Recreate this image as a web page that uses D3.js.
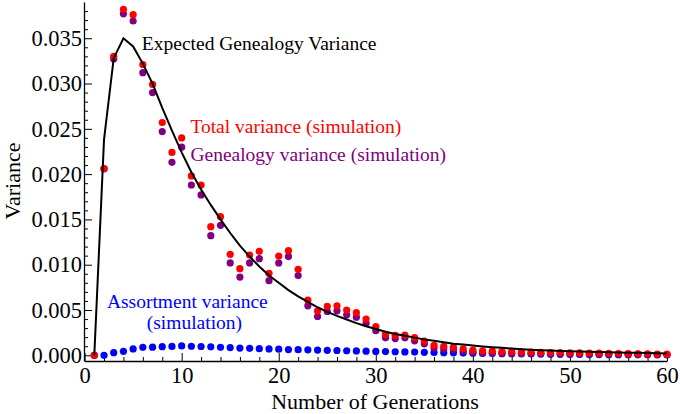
<!DOCTYPE html>
<html>
<head>
<meta charset="utf-8">
<script src="https://cdn.jsdelivr.net/npm/d3@7"></script>
<style>
  html, body { margin: 0; padding: 0; background: #fff; }
  svg { display: block; }
  text { font-family: "Liberation Serif", "Times New Roman", serif; }
</style>
</head>
<body>
<svg id="chart" width="680" height="414"></svg>
<script>
// ---- data (values in units of variance) ----
const generations = [1,2,3,4,5,6,7,8,9,10,11,12,13,14,15,16,17,18,19,20,
  21,22,23,24,25,26,27,28,29,30,31,32,33,34,35,36,37,38,39,40,
  41,42,43,44,45,46,47,48,49,50,51,52,53,54,55,56,57,58,59,60];

const expectedGenealogy = [0,0.0238,0.0328,0.0350,0.0341,0.0322,0.0300,0.0273,0.0248,0.0224,
  0.0202,0.0183,0.0166,0.0150,0.0135,0.0121,0.0109,0.0098,0.0088,0.0080,
  0.0072,0.0065,0.0059,0.0053,0.0048,0.00435,0.00395,0.00355,0.0032,0.0029,
  0.0026,0.00235,0.00215,0.00195,0.00175,0.0016,0.00145,0.00128,0.00118,0.00108,
  0.00098,0.0009,0.00082,0.00075,0.00068,0.00062,0.00057,0.00052,0.00048,0.00045,
  0.00042,0.00039,0.00036,0.00033,0.00031,0.00029,0.00027,0.00025,0.00023,0.00021];

const totalVariance = [0,0.0206,0.0330,0.0382,0.0376,0.0321,0.0299,0.0257,0.0224,0.0240,
  0.0198,0.0188,0.0142,0.0153,0.01115,0.00956,0.01107,0.01148,0.00905,0.01096,
  0.01155,0.0095,0.0061,0.00489,0.0054,0.00546,0.0050,0.0047,0.0040,0.00316,
  0.00232,0.0022,0.00224,0.00195,0.00158,0.0011,0.00099,0.0009,0.00072,0.00056,
  0.0005,0.00047,0.00042,0.0004,0.00037,0.00035,0.00033,0.00031,0.0003,0.00028,
  0.00026,0.00025,0.00023,0.00022,0.0002,0.00018,0.00017,0.00015,0.00013,0.00012];

const genealogyVariance = [0,0.0206,0.0327,0.0377,0.0369,0.0312,0.0290,0.0247,0.0213,0.02297,
  0.0188,0.0177,0.0132,0.01435,0.0102,0.00864,0.0102,0.01067,0.00824,0.0102,
  0.0109,0.0088,0.00546,0.00428,0.00484,0.00491,0.00447,0.00421,0.00353,0.00272,
  0.00193,0.00185,0.00193,0.0016,0.00127,0.0008,0.0007,0.00063,0.00047,0.00034,
  0.0003,0.00027,0.00024,0.00023,0.00022,0.00021,0.0002,0.00019,0.00019,0.00018,
  0.00017,0.00017,0.00015,0.00015,0.00014,0.00012,0.00012,0.0001,0.00009,0.00008];

const assortmentVariance = [0,0,0.00029,0.00044,0.0007,0.00088,0.0009,0.00095,0.00098,0.00103,
  0.001,0.00097,0.00093,0.00088,0.00085,0.0008,0.00077,0.00073,0.0007,0.00067,
  0.00063,0.00062,0.0006,0.00058,0.00055,0.00053,0.0005,0.00048,0.00045,0.00043,
  0.00041,0.00039,0.00037,0.00035,0.00033,0.00031,0.00029,0.00027,0.00025,0.00023,
  0.00021,0.0002,0.00018,0.00017,0.00015,0.00014,0.00013,0.00012,0.00011,0.0001,
  0.00009,0.00008,0.00008,0.00007,0.00006,0.00006,0.00005,0.00005,0.00004,0.00004];

const xTicks = [0,10,20,30,40,50,60];
const yTicks = [0,0.005,0.010,0.015,0.020,0.025,0.030,0.035];

const xTitle = "Number of Generations";
const yTitle = "Variance";
const labels = [
  {text: "Expected Genealogy Variance", color: "#000000", x: 5.9, y: 0.0337, anchor: "start"},
  {text: "Total variance (simulation)", color: "#ff0000", x: 10.9, y: 0.0245, anchor: "start"},
  {text: "Genealogy variance (simulation)", color: "#800080", x: 10.9, y: 0.0214, anchor: "start"},
  {text: "Assortment variance", color: "#0000ff", x: 2.3, y: 0.0052, anchor: "start"},
  {text: "(simulation)", color: "#0000ff", x: 6.4, y: 0.0029, anchor: "start"}
];

// ---- layout ----
const svg = d3.select("#chart");
const x = d3.scaleLinear().domain([0, 60]).range([84.6, 667]);
const y = d3.scaleLinear().domain([-0.00063, 0.039]).range([361, 2]);

const minorX = d3.range(0, 61, 2).filter(v => v % 10 !== 0);
const minorY = d3.range(0, 39).map(i => i / 1000).filter(v => Math.round(v * 1000) % 5 !== 0);

// x axis
const gx = svg.append("g").attr("transform", "translate(0,361)");
gx.call(d3.axisBottom(x).tickValues(xTicks).tickSizeInner(-8).tickSizeOuter(0)
  .tickPadding(6).tickFormat(d3.format("d")));
gx.append("g").call(d3.axisBottom(x).tickValues(minorX).tickSize(-4).tickFormat(""))
  .select(".domain").remove();

// y axis
const gy = svg.append("g").attr("transform", "translate(84,0)");
gy.call(d3.axisLeft(y).tickValues(yTicks).tickSizeInner(-8).tickSizeOuter(0)
  .tickPadding(2).tickFormat(d3.format(".3f")));
gy.append("g").call(d3.axisLeft(y).tickValues(minorY).tickSize(-4).tickFormat(""))
  .select(".domain").remove();

svg.selectAll(".domain").attr("stroke", "#000").attr("stroke-width", 1.3);
svg.selectAll(".tick line").attr("stroke", "#000").attr("stroke-width", 1);
svg.selectAll(".tick text").attr("font-size", 22.5).attr("fill", "#000")
  .attr("font-family", "'Liberation Serif', serif");
gx.selectAll(".tick text").attr("dy", "0.71em");

// titles
svg.append("text").attr("x", 375).attr("y", 409).attr("text-anchor", "middle")
  .attr("font-size", 22).text(xTitle);
svg.append("text").attr("transform", "translate(20,181) rotate(-90)")
  .attr("text-anchor", "middle").attr("font-size", 22).text(yTitle);

// points
const series = [
  {vals: assortmentVariance, color: "#0000ff"},
  {vals: genealogyVariance, color: "#800080"},
  {vals: totalVariance, color: "#ff0000"}
];
series.forEach(s => {
  svg.append("g").selectAll("circle").data(generations).join("circle")
    .attr("cx", (g) => x(g))
    .attr("cy", (g, i) => y(s.vals[i]))
    .attr("r", 3.6)
    .attr("fill", s.color);
});

// expected line
const line = d3.line().x((g) => x(g)).y((g, i) => y(expectedGenealogy[i]));
svg.append("path").datum(generations).attr("d", line)
  .attr("fill", "none").attr("stroke", "#000").attr("stroke-width", 2)
  .attr("stroke-linejoin", "miter");

// labels
labels.forEach(l => {
  svg.append("text").attr("x", x(l.x)).attr("y", y(l.y))
    .attr("text-anchor", l.anchor).attr("fill", l.color)
    .attr("font-size", 19.5).text(l.text);
});
</script>
</body>
</html>
